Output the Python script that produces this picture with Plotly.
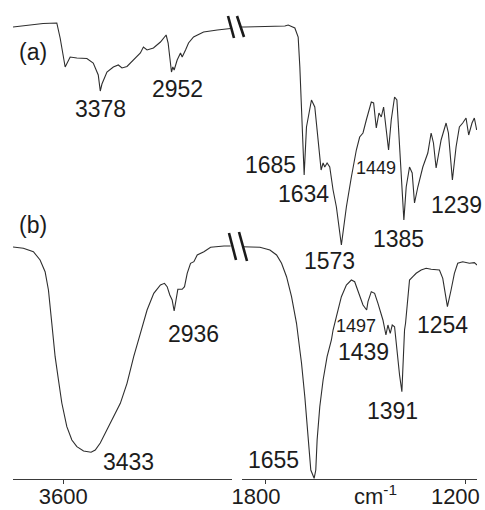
import plotly.graph_objects as go

# IR spectra, wavenumber (cm-1) vs. offset transmittance (arbitrary units).
# The axis is broken: 3900-2590 cm-1 on the left panel, 1872-1165 cm-1 on the right.

# ---- spectrum (a), high-wavenumber region
a_hi_wn = [3900, 3798, 3720, 3638, 3618, 3588, 3558, 3518, 3458, 3420, 3390, 3378,
           3368, 3338, 3300, 3270, 3248, 3218, 3180, 3138, 3120, 3098, 3060, 3018,
           2984, 2972, 2952, 2944, 2936, 2918, 2898, 2888, 2868, 2850, 2820, 2760,
           2678, 2598]
a_hi_t = [452, 454, 455.5, 456, 441, 412, 422, 421, 420.5, 416, 404, 388,
          395, 407, 412, 414, 411, 412.5, 419, 426, 432, 429, 431, 437,
          444, 436, 407, 412, 409, 419, 426, 422, 429, 436, 442, 447,
          449, 450.5]

# ---- spectrum (a), fingerprint region
a_lo_wn = [1872, 1863, 1743, 1733, 1713, 1703, 1698, 1693, 1685, 1678, 1663, 1653,
           1646, 1634, 1628, 1623, 1616, 1608, 1598, 1588, 1573, 1558, 1543, 1528,
           1518, 1508, 1498, 1483, 1476, 1468, 1460, 1453, 1446, 1438, 1431, 1423,
           1413, 1406, 1398, 1385, 1378, 1368, 1360, 1353, 1343, 1328, 1313, 1303,
           1296, 1288, 1273, 1258, 1251, 1239, 1228, 1218, 1208, 1198, 1190, 1180,
           1173, 1166]
a_lo_t = [452, 452, 453, 454, 451, 442, 412, 372, 304, 352, 379, 372,
          346, 309, 316, 312, 316, 312, 289, 272, 234, 272, 302, 329,
          342, 346, 359, 377, 376, 351, 366, 362, 372, 352, 329, 359,
          382, 379, 329, 259, 292, 312, 306, 276, 292, 312, 326, 346,
          336, 311, 339, 356, 346, 299, 332, 352, 356, 361, 344, 356,
          361, 349]

# ---- spectrum (b), high-wavenumber region
b_hi_wn = [3900, 3838, 3778, 3738, 3708, 3688, 3668, 3648, 3628, 3608, 3578, 3548,
           3518, 3478, 3433, 3408, 3378, 3338, 3298, 3258, 3218, 3178, 3138, 3098,
           3058, 3018, 2994, 2978, 2962, 2948, 2936, 2924, 2914, 2888, 2874, 2858,
           2838, 2818, 2798, 2758, 2718, 2638, 2598]
b_hi_t = [232, 230.7, 227.3, 219, 207.3, 189, 156, 122.3, 99, 76, 52.3, 39,
          32.3, 28, 26.7, 29, 36, 49, 62.3, 75.7, 95.7, 122.3, 145.7, 169,
          185.7, 194, 195.7, 192.3, 184, 179, 168, 179, 189.7, 189.7, 192.3, 205.7,
          215.7, 217.3, 224, 227.3, 231.7, 233, 233]

# ---- spectrum (b), fingerprint region
b_lo_wn = [1872, 1818, 1788, 1768, 1753, 1738, 1723, 1708, 1698, 1693, 1683, 1673,
           1665, 1655, 1650, 1646, 1638, 1628, 1616, 1603, 1598, 1588, 1573, 1558,
           1543, 1533, 1520, 1508, 1497, 1493, 1483, 1473, 1463, 1453, 1448, 1439,
           1433, 1426, 1420, 1413, 1406, 1398, 1391, 1388, 1383, 1380, 1373, 1368,
           1358, 1348, 1333, 1318, 1303, 1288, 1278, 1268, 1258, 1254, 1243, 1233,
           1223, 1208, 1188, 1173, 1165]
b_lo_t = [232.3, 231.7, 229, 224, 215.7, 202.3, 182.3, 155.7, 129, 116, 82.3, 39,
          9, 0.7, 9, 39, 72.3, 99, 122.3, 139, 149, 162.3, 182.3, 194,
          199, 197.3, 185.7, 174, 169, 177.3, 187.3, 185.7, 175.7, 165.7, 159, 144,
          154, 145.7, 154, 152.3, 129, 104, 87.3, 116, 149, 155.7, 182.3, 199,
          202.3, 205.7, 209, 210.7, 209.7, 209, 209, 200.7, 182.3, 172.3, 189, 205.7,
          215.7, 217.3, 215.7, 216.3, 214]

# ---- band labels: (text, panel, x in cm-1, y in plot units, font size)
band_labels = [
    ("(a)", "x", 3780, 427, 23),
    ("3378", "x", 3378, 370, 23),
    ("2952", "x", 2919, 390, 23),
    ("1685", "x2", 1785, 314.5, 23),
    ("1634", "x2", 1687.5, 285.5, 23),
    ("1449", "x2", 1468.5, 311.5, 18),
    ("1573", "x2", 1608, 218, 23),
    ("1385", "x2", 1402.5, 240.5, 23),
    ("1239", "x2", 1227, 274, 23),
    ("(b)", "x", 3783, 254, 23),
    ("2936", "x", 2823, 145.5, 23),
    ("3433", "x", 3207, 17.5, 23),
    ("1655", "x2", 1776, 19, 23),
    ("1497", "x2", 1528.5, 153.5, 18),
    ("1439", "x2", 1506, 127, 23),
    ("1391", "x2", 1419, 68, 23),
    ("1254", "x2", 1269, 154, 23),
]

left_ticks = [3600]
right_ticks = [1800, 1200]

FONT = "Arial, Liberation Sans, sans-serif"
INK = "#1c1c1c"
LINE = "#2e2e2e"
W, H = 485, 510
TOP, BOTTOM = 9, 31
PLOT_H = H - TOP - BOTTOM

fig = go.Figure()
for wn, t, xa in [(a_hi_wn, a_hi_t, "x"), (b_hi_wn, b_hi_t, "x"),
                  (a_lo_wn, a_lo_t, "x2"), (b_lo_wn, b_lo_t, "x2")]:
    fig.add_trace(go.Scatter(x=wn, y=t, xaxis=xa, yaxis="y", mode="lines",
                             line=dict(color=LINE, width=1.1),
                             showlegend=False, hoverinfo="skip"))

axis_common = dict(showgrid=False, zeroline=False, showline=True,
                   linecolor="#3a3a3a", linewidth=1, ticks="outside",
                   ticklen=4, tickcolor="#3a3a3a", tickwidth=1,
                   automargin=False, ticklabelstandoff=-6,
                   tickfont=dict(family=FONT, size=22, color=INK))

fig.update_layout(
    width=W, height=H,
    margin=dict(l=0, r=0, t=TOP, b=BOTTOM, pad=0, autoexpand=False),
    paper_bgcolor="white", plot_bgcolor="white",
    xaxis=dict(domain=[13 / W, 232 / W], range=[3900, 2590],
               tickvals=left_ticks, anchor="y", **axis_common),
    xaxis2=dict(domain=[242 / W, 477 / W], range=[1872, 1165],
                tickvals=right_ticks, anchor="y", ticklabelshift=10,
                ticklabeloverflow="allow", **axis_common),
    yaxis=dict(range=[0, 470], visible=False, domain=[0, 1]),
)

for text, xa, xv, yv, size in band_labels:
    fig.add_annotation(text=text, x=xv, y=yv, xref=xa, yref="y",
                       showarrow=False, xanchor="center", yanchor="middle",
                       font=dict(family=FONT, size=size, color=INK))

# axis unit label below the right panel
fig.add_annotation(text="cm<sup>-1</sup>", x=1470, xref="x2",
                   y=-16 / PLOT_H, yref="paper",
                   showarrow=False, xanchor="center", yanchor="middle",
                   font=dict(family=FONT, size=22, color=INK))

# axis-break marks "\\" between the two panels, one pair per spectrum
for (x0, y0, x1, y1) in [(228, 16, 234, 38), (237, 16, 244, 37),
                         (229, 233, 236, 260), (239, 232, 247, 261)]:
    fig.add_shape(type="line", xref="paper", yref="paper",
                  x0=x0 / W, x1=x1 / W,
                  y0=(H - BOTTOM - y0) / PLOT_H,
                  y1=(H - BOTTOM - y1) / PLOT_H,
                  line=dict(color="#1a1a1a", width=2.6))

fig.write_html("out.html")
